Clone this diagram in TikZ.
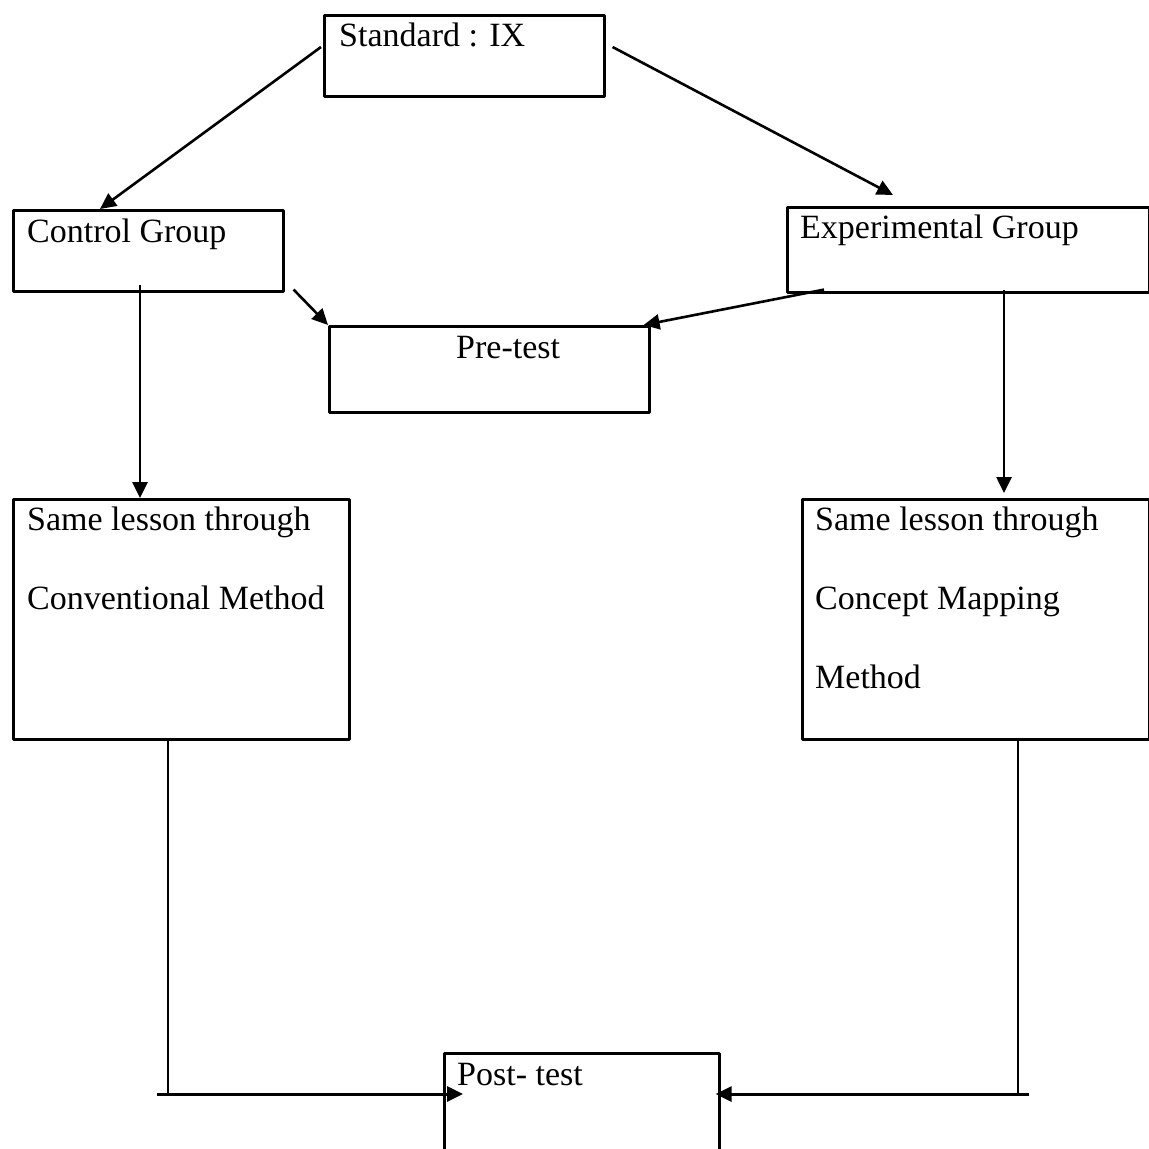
\documentclass[tikz,border=0pt]{standalone}
\usepackage{fontspec}
\setmainfont{Liberation Serif}
\usetikzlibrary{arrows.meta}
\begin{document}
\begin{tikzpicture}[x=1pt,y=-1pt,line join=round,
	>={Triangle[length=16pt,width=15pt]},
	font=\fontsize{34}{79}\selectfont,
	box/.style={draw,line width=2.6pt,anchor=north west,inner sep=0pt},
	lbl/.style={anchor=base west,inner sep=0pt,align=left},
	link/.style={->,line width=2.6pt}]
	\clip (0,0) rectangle (1149,1149);
	% boxes
	\node[box,minimum width=280pt,minimum height=81pt] (std) at (323,14) {};
	\node[box,minimum width=270pt,minimum height=81pt] (ctrl) at (12,209) {};
	\node[box,minimum width=362pt,minimum height=85pt] (exp) at (786,206) {};
	\node[box,minimum width=320pt,minimum height=86pt] (pre) at (328,325) {};
	\node[box,minimum width=336pt,minimum height=240pt] (sameL) at (12,498) {};
	\node[box,minimum width=347pt,minimum height=240pt] (sameR) at (801,498) {};
	\node[box,minimum width=275pt,minimum height=120pt] (post) at (443,1052) {};
	% texts (base = baseline of the last line)
	\node[lbl] (stdtxt) at ([shift={(16pt,-32pt)}]std.north west) {Standard : IX};
	\node[lbl] (ctrltxt) at ([shift={(15pt,-33pt)}]ctrl.north west) {Control Group};
	\node[lbl] (exptxt) at ([shift={(14pt,-32pt)}]exp.north west) {Experimental Group};
	\node[lbl] (pretxt) at ([shift={(128pt,-33pt)}]pre.north west) {Pre-test};
	\node[lbl] (sameLtxt) at ([shift={(15pt,-111pt)}]sameL.north west) {Same lesson through\\Conventional Method};
	\node[lbl] (sameRtxt) at ([shift={(14pt,-190pt)}]sameR.north west) {Same lesson through\\Concept Mapping\\Method};
	\node[lbl] (posttxt) at ([shift={(14pt,-33pt)}]post.north west) {Post- test};
	% arrows
	\draw[link] ([shift={(-2pt,-33pt)}]std.north west) -- ([xshift=88pt]ctrl.north west);
	\draw[link] ([shift={(7pt,-33pt)}]std.north east) -- ([shift={(107pt,11pt)}]exp.north west);
	\draw[link] ([shift={(9pt,3pt)}]ctrl.south east) -- (pre.north west);
	\draw[link] ([shift={(38pt,4pt)}]exp.south west) -- ([xshift=-7pt]pre.north east);
	\draw[link] ([shift={(128pt,8pt)}]ctrl.south west) -- ([xshift=128pt]sameL.north west);
	\draw[link] ([shift={(218pt,4pt)}]exp.south west) -- ([shift={(203pt,5pt)}]sameR.north west);
	% lines down to the post-test
	\coordinate (lcorner) at (168,1094); \coordinate (lend) at (157,1094);
	\coordinate (rcorner) at (1018,1094); \coordinate (rend) at (1029,1094);
	\draw[line width=1.7pt] (lcorner |- sameL.south) -- (lcorner);
	\draw[line width=1.7pt] ([yshift=3pt]rcorner |- sameR.south) -- (rcorner);
	\draw[link,line width=3pt] (lend) -- ([shift={(20pt,-42pt)}]post.north west);
	\draw[link,line width=3pt] (rend) -- ([shift={(-5pt,-42pt)}]post.north east);
\end{tikzpicture}
\end{document}
